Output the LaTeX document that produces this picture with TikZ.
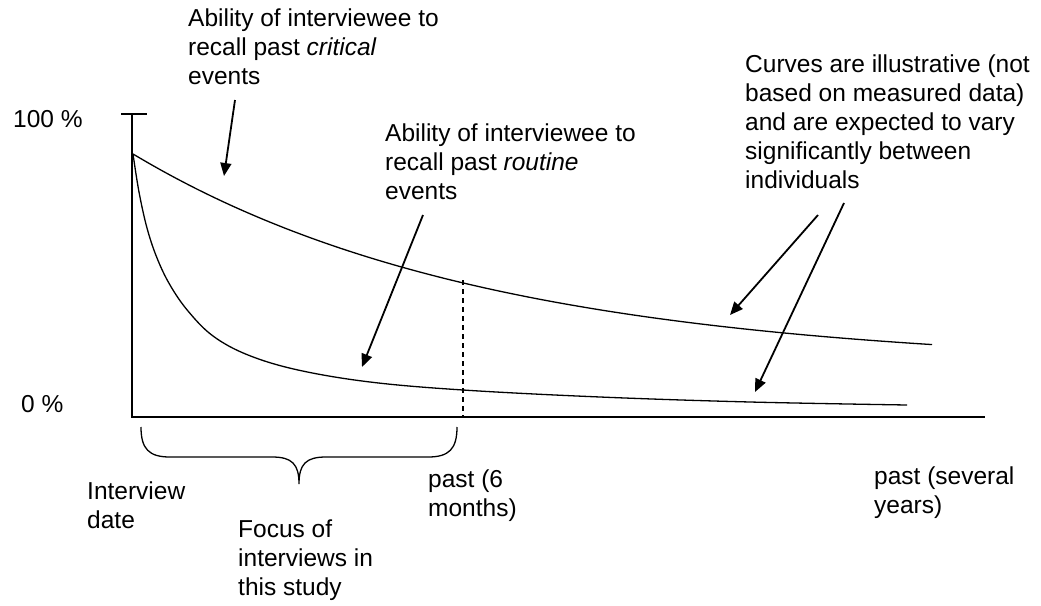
\documentclass[tikz,border=0pt]{standalone}
\usepackage{fontspec}
\setmainfont{Liberation Sans}
\usetikzlibrary{arrows.meta}
\begin{document}
\begin{tikzpicture}[x=1pt,y=-1pt,
  txt/.style={anchor=north west, inner sep=0pt, align=left,
              font=\fontsize{24.5}{29}\selectfont},
  axisline/.style={line width=1.6pt},
  curveline/.style={line width=1.3pt},
  pointer/.style={line width=1.8pt, -{Triangle[length=13pt,width=11pt]}},
  bracestyle/.style={line width=1.3pt},
  guide/.style={line width=1.2pt, dash pattern=on 5pt off 4pt},
]
\useasboundingbox (0,0) rectangle (1041,605);

% axes
\coordinate (origin) at (132,417);
\coordinate (ytop) at (132,114);
\coordinate (xend) at (985,417);
\coordinate (tickL) at (121,114);
\coordinate (tickR) at (147,114);
\draw[axisline] (ytop) -- (origin) -- (xend);
\draw[axisline] (tickL) -- (tickR);

% axis labels
\node[txt] (full) at (13,110) {100 \%};
\node[txt] (none) at (21,395) {0 \%};

% recall of critical events
\draw[curveline] plot[domain=133:932, samples=90, smooth]
  (\x, {417-50-213*exp(-(\x-133)/355)});

% recall of routine events
\draw[curveline] plot[smooth, tension=0.6] coordinates {
  (133,154) (139,192) (147,228) (157,258) (170,285) (188,311)
  (213,336) (248,355) (298,370) (370,382) (463,390) (600,397)
  (750,402) (907,405)};

% six-month marker
\coordinate (sixtop) at (463,280);
\coordinate (sixbot) at (463,417);
\draw[guide] (sixtop) -- (sixbot);

% brace under the first six months
\coordinate (braceL) at (141,427);
\coordinate (braceTip) at (299,484);
\coordinate (braceR) at (457,427);
\draw[bracestyle] (braceL) .. controls (141,449) and (149,457) .. (170,457)
  -- (272,457) .. controls (292,457) and (299,464) .. (braceTip)
  .. controls (299,464) and (306,457) .. (326,457)
  -- (428,457) .. controls (449,457) and (457,449) .. (braceR);

% text blocks
\node[txt] (critical) at (188,9)
  {Ability of interviewee to\\recall past \textit{critical}\\events};
\node[txt] (routine) at (385,124)
  {Ability of interviewee to\\recall past \textit{routine}\\events};
\node[txt] (note) at (745,55)
  {Curves are illustrative (not\\based on measured data)\\and are expected to vary\\significantly between\\individuals};
\node[txt] (today) at (87,482) {Interview\\date};
\node[txt] (focus) at (238,520) {Focus of\\interviews in\\this study};
\node[txt] (sixmonths) at (428,470) {past (6\\months)};
\node[txt] (years) at (874,467) {past (several\\years)};

% pointers
\coordinate (p1s) at (235,100); \coordinate (p1e) at (224,176);
\coordinate (p2s) at (423,215); \coordinate (p2e) at (362,367);
\coordinate (p3s) at (818,215); \coordinate (p3e) at (730,315);
\coordinate (p4s) at (844,203); \coordinate (p4e) at (755,392);
\draw[pointer] (p1s) -- (p1e);
\draw[pointer] (p2s) -- (p2e);
\draw[pointer] (p3s) -- (p3e);
\draw[pointer] (p4s) -- (p4e);
\end{tikzpicture}
\end{document}
